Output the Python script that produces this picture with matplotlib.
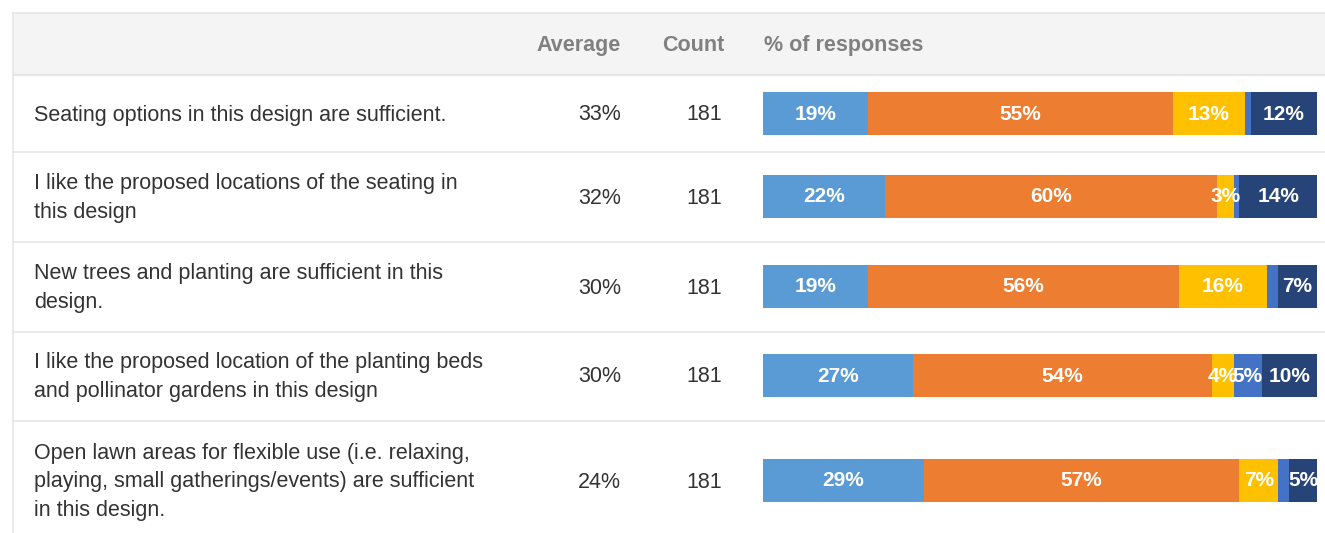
import matplotlib.pyplot as plt
from matplotlib.patches import Rectangle

# survey statements and summary columns
statements = [
    "Seating options in this design are sufficient.",
    "I like the proposed locations of the seating in\nthis design",
    "New trees and planting are sufficient in this\ndesign.",
    "I like the proposed location of the planting beds\nand pollinator gardens in this design",
    "Open lawn areas for flexible use (i.e. relaxing,\nplaying, small gatherings/events) are sufficient\nin this design.",
]
averages = ["33%", "32%", "30%", "30%", "24%"]
counts = [181, 181, 181, 181, 181]

# share of responses per answer option (left to right)
resp_1 = [19, 22, 19, 27, 29]
resp_2 = [55, 60, 56, 54, 57]
resp_3 = [13, 3, 16, 4, 7]
resp_4 = [1, 1, 2, 5, 2]
resp_5 = [12, 14, 7, 10, 5]
series = [resp_1, resp_2, resp_3, resp_4, resp_5]
colors = ["#5b9bd5", "#ed7d31", "#ffc000", "#4472c4", "#264478"]

W, H = 1325, 533
fig = plt.figure(figsize=(W / 100, H / 100), dpi=100)
plt.rcParams['font.family'] = ['Liberation Sans', 'DejaVu Sans']

# table canvas in pixel units
ax = fig.add_axes([0, 0, 1, 1])
ax.set_xlim(0, W)
ax.set_ylim(H, 0)
ax.axis("off")

left, top = 13, 13
header_bottom = 75
row_lines = [152, 242, 332, 421]
row_centers = [113, 196, 286, 375, 480]
line_col = "#e6e6e6"

ax.add_patch(Rectangle((left, top), W - left, header_bottom - top,
                       facecolor="#f4f4f4", edgecolor="none"))
ax.plot([left, W], [top, top], color=line_col, lw=1.2)
ax.plot([left, W], [header_bottom, header_bottom], color=line_col, lw=1.5)
ax.plot([left, left], [top, H], color=line_col, lw=1.2)
for y in row_lines:
    ax.plot([left, W], [y, y], color=line_col, lw=1.2)

# header labels share one baseline
hdr = dict(fontsize=15.5, color="#808080", fontweight="bold", va="baseline")
ax.text(621, 51, "Average", ha="right", **hdr)
ax.text(724, 51, "Count", ha="right", **hdr)
ax.text(764, 51, "% of responses", ha="left", **hdr)

txt = dict(fontsize=15.5, color="#333333", va="center")
for yc, s, a, c in zip(row_centers, statements, averages, counts):
    ax.text(34, yc + 2, s, ha="left", linespacing=1.45, **txt)
    ax.text(621, yc + 2, a, ha="right", **txt)
    ax.text(722, yc + 2, str(c), ha="right", **txt)

# stacked bars, positioned over the table rows
bx0, bx1 = 763, 1317
bax = fig.add_axes([bx0 / W, 0, (bx1 - bx0) / W, 1])
bax.set_xlim(0, 100)
bax.set_ylim(H, 0)
bax.axis("off")

cum = [0] * len(statements)
for vals, col in zip(series, colors):
    bars = bax.barh(row_centers, vals, left=cum, height=43, color=col,
                    edgecolor="none")
    for patch, yc, v, l in zip(bars.patches, row_centers, vals, cum):
        if v >= 3:
            t = bax.text(l + v / 2, yc + 1, f"{v}%", ha="center", va="center",
                         color="white", fontsize=15, fontweight="bold")
            # labels wider than their segment get cut at its edges
            t.set_clip_path(patch)
    cum = [c + v for c, v in zip(cum, vals)]

fig.savefig("out.png", dpi=100)
